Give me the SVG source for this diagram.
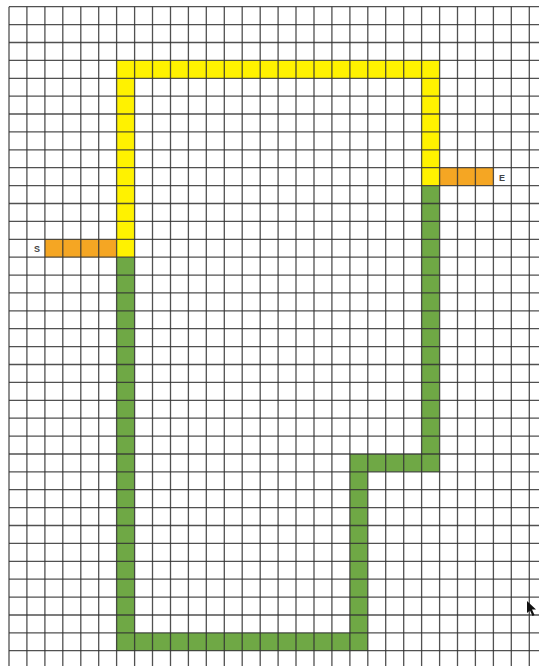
<svg xmlns="http://www.w3.org/2000/svg" width="539" height="666" viewBox="0 0 539 666">
<style>
.y{fill:#FFF200}
.o{fill:#F5A623}
.g{fill:#6FA845}
.grid{fill:none;stroke:#333;stroke-width:1.3;stroke-opacity:0.85}
.lbl{font-family:"Liberation Sans",Arial,sans-serif;font-size:9px;font-weight:bold;fill:#444}
</style>
<rect x="0" y="0" width="539" height="666" fill="#fff"/>
<g id="path-start">
<rect class="o" x="44.9" y="239.3" width="71.7" height="17.9"/>
<text class="lbl" x="34" y="252">S</text>
</g>
<g id="path-end">
<rect class="o" x="439.6" y="167.7" width="53.8" height="17.9"/>
<text class="lbl" x="499" y="181">E</text>
</g>
<g id="path-yellow">
<rect class="y" x="116.6" y="60.4" width="18" height="196.8"/>
<rect class="y" x="116.6" y="60.4" width="323" height="17.9"/>
<rect class="y" x="421.6" y="60.4" width="18" height="125.2"/>
</g>
<g id="path-green">
<rect class="g" x="116.6" y="257.2" width="18" height="393.5"/>
<rect class="g" x="116.6" y="632.9" width="251.2" height="17.8"/>
<rect class="g" x="349.9" y="454" width="17.9" height="196.7"/>
<rect class="g" x="349.9" y="454" width="89.7" height="17.8"/>
<rect class="g" x="421.6" y="185.6" width="18" height="286.2"/>
</g>
<g id="connectors">
<path class="grid" d="M9 6.7V666M26.9 6.7V666M44.9 6.7V666M62.8 6.7V666M80.8 6.7V666M98.7 6.7V666M116.6 6.7V666M134.6 6.7V666M152.5 6.7V666M170.5 6.7V666M188.4 6.7V666M206.3 6.7V666M224.3 6.7V666M242.2 6.7V666M260.2 6.7V666M278.1 6.7V666M296 6.7V666M314 6.7V666M331.9 6.7V666M349.9 6.7V666M367.8 6.7V666M385.7 6.7V666M403.7 6.7V666M421.6 6.7V666M439.6 6.7V666M457.5 6.7V666M475.4 6.7V666M493.4 6.7V666M511.3 6.7V666M529.3 6.7V666"/>
<path class="grid" d="M9 6.7H539M9 24.6H539M9 42.5H539M9 60.4H539M9 78.3H539M9 96.2H539M9 114H539M9 131.9H539M9 149.8H539M9 167.7H539M9 185.6H539M9 203.5H539M9 221.4H539M9 239.3H539M9 257.2H539M9 275.1H539M9 292.9H539M9 310.8H539M9 328.7H539M9 346.6H539M9 364.5H539M9 382.4H539M9 400.3H539M9 418.2H539M9 436.1H539M9 454H539M9 471.8H539M9 489.7H539M9 507.6H539M9 525.5H539M9 543.4H539M9 561.3H539M9 579.2H539M9 597.1H539M9 615H539M9 632.9H539M9 650.7H539"/>
</g>
<polygon points="527,601 527,613 530,610.5 532.5,616 534.5,615 532,609.5 536,609.5" fill="#111"/>
</svg>
